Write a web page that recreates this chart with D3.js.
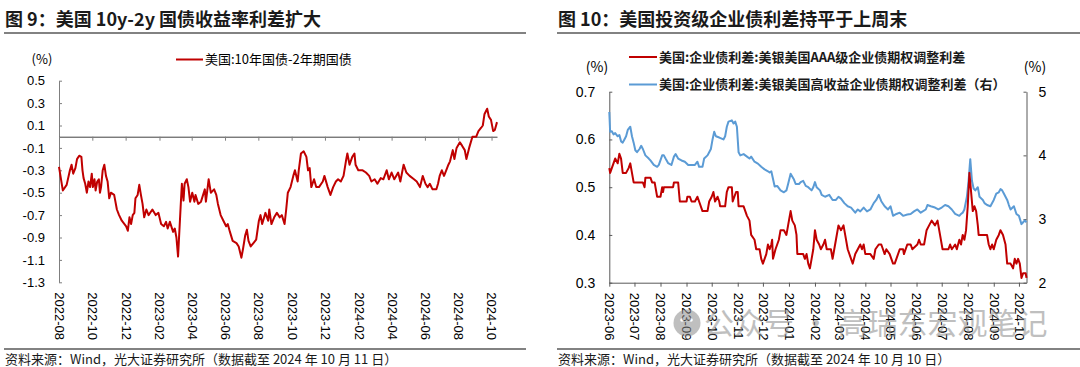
<!DOCTYPE html>
<html>
<head>
<meta charset="utf-8">
<script src="https://cdn.jsdelivr.net/npm/d3@7"></script>
<style>
  body { margin: 0; background: #fff; }
  svg { display: block; font-family: "Noto Sans CJK SC", "Noto Sans", sans-serif; }
</style>
</head>
<body>
<svg id="chart" width="1080" height="367"></svg>
<script>
// ---------- data: left panel (US 10y - 2y, %) ----------
var spreadDates = [
  "2022-08-01","2022-08-08","2022-08-15","2022-08-21","2022-08-24","2022-08-27","2022-08-31","2022-09-03",
  "2022-09-07","2022-09-11","2022-09-13","2022-09-15","2022-09-18","2022-09-21","2022-09-24","2022-09-27",
  "2022-09-30","2022-10-02","2022-10-05","2022-10-07","2022-10-10","2022-10-13","2022-10-15","2022-10-17",
  "2022-10-20","2022-10-23","2022-10-26","2022-10-29","2022-11-01","2022-11-04","2022-11-10","2022-11-15",
  "2022-11-19","2022-11-24","2022-12-02","2022-12-05","2022-12-08","2022-12-11","2022-12-14","2022-12-17",
  "2022-12-19","2022-12-23","2022-12-26","2022-12-29","2023-01-01","2023-01-04","2023-01-08","2023-01-12",
  "2023-01-19","2023-01-25","2023-01-30","2023-02-04","2023-02-09","2023-02-13","2023-02-16","2023-02-20",
  "2023-02-26","2023-03-01","2023-03-04","2023-03-07","2023-03-12","2023-03-14","2023-03-17","2023-03-19",
  "2023-03-23","2023-03-26","2023-03-29","2023-04-02","2023-04-06","2023-04-08","2023-04-13","2023-04-18",
  "2023-04-25","2023-04-27","2023-05-02","2023-05-06","2023-05-12","2023-05-16","2023-05-19","2023-05-24",
  "2023-05-29","2023-06-03","2023-06-06","2023-06-10","2023-06-15","2023-06-22","2023-06-26","2023-07-01",
  "2023-07-04","2023-07-08","2023-07-11","2023-07-14","2023-07-18","2023-07-23","2023-07-28","2023-08-02",
  "2023-08-05","2023-08-08","2023-08-14","2023-08-19","2023-08-21","2023-08-25","2023-08-30","2023-09-04",
  "2023-09-09","2023-09-13","2023-09-18","2023-09-21","2023-09-24","2023-09-29","2023-10-04","2023-10-07",
  "2023-10-12","2023-10-14","2023-10-18","2023-10-23","2023-10-28","2023-10-31","2023-11-03","2023-11-06",
  "2023-11-11","2023-11-15","2023-11-20","2023-11-27","2023-11-30","2023-12-06","2023-12-11","2023-12-16",
  "2023-12-21","2023-12-25","2023-12-30","2024-01-04","2024-01-09","2024-01-11","2024-01-15","2024-01-20",
  "2024-01-24","2024-01-26","2024-01-31","2024-02-08","2024-02-14","2024-02-20","2024-02-24","2024-03-01",
  "2024-03-06","2024-03-12","2024-03-17","2024-03-23","2024-03-27","2024-04-01","2024-04-06","2024-04-13",
  "2024-04-17","2024-04-21","2024-04-23","2024-04-28","2024-05-04","2024-05-12","2024-05-17","2024-05-23",
  "2024-05-28","2024-06-02","2024-06-06","2024-06-10","2024-06-15","2024-06-22","2024-06-25","2024-06-28",
  "2024-07-02","2024-07-06","2024-07-10","2024-07-14","2024-07-17","2024-07-22","2024-07-25","2024-07-29",
  "2024-08-04","2024-08-08","2024-08-13","2024-08-16","2024-08-21","2024-08-27","2024-09-03","2024-09-07",
  "2024-09-12","2024-09-15","2024-09-18","2024-09-23","2024-09-26","2024-09-30","2024-10-04","2024-10-07",
  "2024-10-11"
];
var spreadValues = [
  -0.27,-0.48,-0.43,-0.30,-0.25,-0.33,-0.28,-0.20,
  -0.17,-0.18,-0.30,-0.37,-0.42,-0.50,-0.40,-0.45,
  -0.33,-0.45,-0.38,-0.48,-0.40,-0.38,-0.50,-0.45,
  -0.30,-0.25,-0.35,-0.40,-0.55,-0.50,-0.52,-0.65,
  -0.70,-0.75,-0.80,-0.84,-0.72,-0.78,-0.70,-0.68,
  -0.55,-0.52,-0.43,-0.52,-0.60,-0.72,-0.65,-0.70,
  -0.65,-0.70,-0.68,-0.78,-0.80,-0.76,-0.82,-0.76,
  -0.85,-0.82,-0.90,-1.07,-0.60,-0.42,-0.57,-0.42,
  -0.38,-0.45,-0.58,-0.50,-0.58,-0.52,-0.60,-0.58,
  -0.47,-0.58,-0.38,-0.50,-0.47,-0.52,-0.60,-0.70,
  -0.75,-0.80,-0.78,-0.85,-0.93,-0.95,-0.98,-1.08,
  -1.00,-0.88,-0.83,-0.93,-0.98,-0.95,-0.92,-0.75,
  -0.70,-0.78,-0.68,-0.75,-0.65,-0.78,-0.72,-0.68,
  -0.72,-0.70,-0.78,-0.65,-0.50,-0.45,-0.35,-0.30,
  -0.40,-0.30,-0.15,-0.13,-0.18,-0.30,-0.28,-0.45,
  -0.38,-0.45,-0.45,-0.40,-0.35,-0.45,-0.52,-0.45,
  -0.40,-0.38,-0.40,-0.35,-0.20,-0.15,-0.25,-0.18,
  -0.15,-0.25,-0.30,-0.30,-0.32,-0.35,-0.40,-0.38,
  -0.42,-0.37,-0.38,-0.30,-0.38,-0.32,-0.38,-0.32,
  -0.40,-0.30,-0.25,-0.32,-0.35,-0.38,-0.40,-0.45,
  -0.35,-0.42,-0.45,-0.42,-0.47,-0.47,-0.42,-0.35,
  -0.30,-0.35,-0.30,-0.25,-0.22,-0.12,-0.20,-0.10,
  -0.05,-0.08,-0.12,-0.20,-0.10,0.00,0.00,0.05,
  0.08,0.10,0.20,0.25,0.18,0.15,0.05,0.06,
  0.13
];
var leftYTicks = [0.5, 0.3, 0.1, -0.1, -0.3, -0.5, -0.7, -0.9, -1.1, -1.3];
var leftMonths = ["2022-08","2022-10","2022-12","2023-02","2023-04","2023-06","2023-08",
  "2023-10","2023-12","2024-02","2024-04","2024-06","2024-08","2024-10"];

// ---------- data: right panel (ICE BofA OAS, %) ----------
var aaaDates = [
  "2023-06-01","2023-06-02","2023-06-04","2023-06-06","2023-06-08","2023-06-11","2023-06-13","2023-06-15",
  "2023-06-17","2023-06-21","2023-06-24","2023-06-26","2023-06-28","2023-06-30","2023-07-05","2023-07-11",
  "2023-07-13","2023-07-14","2023-07-20","2023-07-22","2023-07-25","2023-07-28","2023-08-01","2023-08-03",
  "2023-08-04","2023-08-05","2023-08-16","2023-08-17","2023-08-22","2023-08-24","2023-09-01","2023-09-02",
  "2023-09-05","2023-09-07","2023-09-11","2023-09-14","2023-09-16","2023-09-20","2023-09-26","2023-09-28",
  "2023-10-01","2023-10-03","2023-10-05","2023-10-08","2023-10-10","2023-10-11","2023-10-17","2023-10-19",
  "2023-10-21","2023-10-25","2023-10-26","2023-10-28","2023-10-30","2023-11-01","2023-11-02","2023-11-08",
  "2023-11-10","2023-11-12","2023-11-15","2023-11-17","2023-11-21","2023-11-23","2023-11-27","2023-11-29",
  "2023-12-01","2023-12-03","2023-12-05","2023-12-07","2023-12-09","2023-12-11","2023-12-12","2023-12-13",
  "2023-12-16","2023-12-20","2023-12-22","2023-12-26","2023-12-29","2023-12-31","2024-01-03","2024-01-05",
  "2024-01-08","2024-01-10","2024-01-11","2024-01-18","2024-01-20","2024-01-22","2024-01-24","2024-01-26",
  "2024-01-28","2024-01-30","2024-02-01","2024-02-03","2024-02-06","2024-02-08","2024-02-11","2024-02-13",
  "2024-02-15","2024-02-20","2024-02-22","2024-02-24","2024-02-26","2024-02-29","2024-03-03","2024-03-06",
  "2024-03-08","2024-03-11","2024-03-15","2024-03-17","2024-03-20","2024-03-23","2024-03-26","2024-03-28",
  "2024-03-30","2024-04-01","2024-04-07","2024-04-11","2024-04-13","2024-04-17","2024-04-20","2024-04-22",
  "2024-04-24","2024-04-26","2024-04-30","2024-05-02","2024-05-04","2024-05-06","2024-05-08","2024-05-12",
  "2024-05-16","2024-05-17","2024-05-21","2024-05-25","2024-05-27","2024-06-02","2024-06-04","2024-06-06",
  "2024-06-10","2024-06-13","2024-06-16","2024-06-19","2024-06-23","2024-06-26","2024-06-29","2024-07-02",
  "2024-07-05","2024-07-09","2024-07-11","2024-07-13","2024-07-17","2024-07-19","2024-07-22","2024-07-24",
  "2024-07-26","2024-07-28","2024-07-30","2024-08-01","2024-08-03","2024-08-05","2024-08-07","2024-08-09",
  "2024-08-11","2024-08-13","2024-08-14","2024-08-24","2024-08-26","2024-08-28","2024-08-30","2024-09-01",
  "2024-09-04","2024-09-07","2024-09-09","2024-09-12","2024-09-15","2024-09-17","2024-09-21","2024-09-24",
  "2024-09-26","2024-09-28","2024-09-30","2024-10-02","2024-10-04","2024-10-06","2024-10-09","2024-10-10"
];
var aaaValues = [
  0.54,0.53,0.54,0.55,0.56,0.55,0.57,0.56,
  0.53,0.53,0.54,0.55,0.53,0.51,0.51,0.51,
  0.50,0.52,0.52,0.51,0.51,0.48,0.48,0.50,
  0.49,0.50,0.50,0.51,0.51,0.47,0.47,0.48,
  0.48,0.47,0.47,0.48,0.47,0.45,0.45,0.47,
  0.48,0.49,0.47,0.48,0.47,0.46,0.46,0.49,
  0.50,0.50,0.47,0.48,0.49,0.49,0.46,0.46,
  0.45,0.44,0.43,0.40,0.39,0.37,0.37,0.35,
  0.34,0.35,0.36,0.38,0.37,0.38,0.39,0.35,
  0.37,0.39,0.41,0.41,0.40,0.42,0.45,0.43,
  0.42,0.40,0.36,0.36,0.35,0.36,0.34,0.33,
  0.35,0.37,0.41,0.39,0.38,0.37,0.38,0.39,
  0.37,0.37,0.35,0.37,0.39,0.42,0.41,0.42,
  0.40,0.37,0.35,0.34,0.36,0.37,0.38,0.37,
  0.38,0.36,0.36,0.35,0.37,0.38,0.38,0.37,
  0.36,0.37,0.36,0.35,0.34,0.34,0.35,0.37,
  0.37,0.36,0.38,0.38,0.37,0.38,0.39,0.38,
  0.38,0.41,0.42,0.43,0.42,0.43,0.40,0.37,
  0.37,0.37,0.38,0.37,0.38,0.37,0.39,0.38,
  0.40,0.39,0.41,0.46,0.53,0.49,0.45,0.46,
  0.45,0.42,0.40,0.40,0.38,0.37,0.38,0.37,
  0.39,0.40,0.41,0.40,0.38,0.34,0.34,0.33,
  0.35,0.34,0.35,0.34,0.31,0.32,0.32,0.31
];
var hyDates = [
  "2023-06-01","2023-06-02","2023-06-04","2023-06-06","2023-06-08","2023-06-11","2023-06-13","2023-06-15",
  "2023-06-17","2023-06-19","2023-06-21","2023-06-23","2023-06-26","2023-06-28","2023-06-30","2023-07-02",
  "2023-07-04","2023-07-07","2023-07-09","2023-07-11","2023-07-14","2023-07-18","2023-07-20","2023-07-24",
  "2023-07-28","2023-07-30","2023-08-03","2023-08-05","2023-08-07","2023-08-10","2023-08-14","2023-08-17",
  "2023-08-19","2023-08-22","2023-08-26","2023-08-30","2023-09-03","2023-09-07","2023-09-11","2023-09-14",
  "2023-09-16","2023-09-20","2023-09-22","2023-09-26","2023-09-28","2023-09-30","2023-10-02","2023-10-04",
  "2023-10-06","2023-10-10","2023-10-15","2023-10-17","2023-10-19","2023-10-21","2023-10-25","2023-10-27",
  "2023-10-29","2023-10-31","2023-11-02","2023-11-04","2023-11-08","2023-11-12","2023-11-15","2023-11-17",
  "2023-11-21","2023-11-25","2023-11-29","2023-12-03","2023-12-07","2023-12-09","2023-12-11","2023-12-15",
  "2023-12-18","2023-12-22","2023-12-26","2023-12-29","2023-12-31","2024-01-03","2024-01-07","2024-01-09",
  "2024-01-13","2024-01-15","2024-01-18","2024-01-21","2024-01-24","2024-01-28","2024-01-30","2024-02-01",
  "2024-02-03","2024-02-07","2024-02-09","2024-02-13","2024-02-18","2024-02-22","2024-02-26","2024-02-29",
  "2024-03-03","2024-03-07","2024-03-11","2024-03-15","2024-03-20","2024-03-23","2024-03-26","2024-03-30",
  "2024-04-03","2024-04-07","2024-04-11","2024-04-14","2024-04-17","2024-04-20","2024-04-24","2024-04-28",
  "2024-05-01","2024-05-04","2024-05-08","2024-05-12","2024-05-16","2024-05-21","2024-05-25","2024-05-29",
  "2024-06-02","2024-06-06","2024-06-12","2024-06-14","2024-06-18","2024-06-23","2024-06-27","2024-07-01",
  "2024-07-05","2024-07-09","2024-07-13","2024-07-17","2024-07-22","2024-07-24","2024-07-26","2024-07-28",
  "2024-07-31","2024-08-02","2024-08-04","2024-08-06","2024-08-08","2024-08-10","2024-08-13","2024-08-15",
  "2024-08-19","2024-08-21","2024-08-24","2024-08-28","2024-09-01","2024-09-04","2024-09-07","2024-09-09",
  "2024-09-11","2024-09-13","2024-09-17","2024-09-19","2024-09-21","2024-09-25","2024-09-28","2024-10-01",
  "2024-10-04","2024-10-06","2024-10-08","2024-10-10"
];
var hyValues = [
  4.68,4.37,4.38,4.33,4.35,4.30,4.32,4.22,
  4.20,4.25,4.30,4.40,4.45,4.30,4.20,4.08,
  4.05,4.10,4.15,4.10,4.00,3.95,3.92,3.85,
  3.82,3.85,4.00,4.00,3.95,3.88,3.85,3.98,
  4.02,3.95,3.92,3.90,3.85,3.85,3.85,3.90,
  3.82,3.82,3.95,4.00,4.05,4.10,4.25,4.37,
  4.30,4.28,4.25,4.30,4.45,4.53,4.55,4.50,
  4.53,4.45,4.05,4.00,4.02,3.98,3.95,3.98,
  3.90,3.87,3.82,3.78,3.75,3.73,3.75,3.51,
  3.52,3.45,3.42,3.45,3.55,3.71,3.62,3.55,
  3.55,3.58,3.60,3.52,3.50,3.45,3.50,3.58,
  3.50,3.45,3.38,3.35,3.38,3.30,3.30,3.35,
  3.32,3.25,3.20,3.18,3.10,3.15,3.12,3.18,
  3.12,3.15,3.25,3.30,3.38,3.28,3.20,3.15,
  3.20,3.05,3.08,3.10,3.05,3.07,3.08,3.12,
  3.15,3.10,3.15,3.22,3.20,3.18,3.15,3.18,
  3.22,3.20,3.15,3.08,3.05,3.08,3.10,3.15,
  3.35,3.60,3.94,3.60,3.48,3.45,3.50,3.35,
  3.30,3.25,3.22,3.20,3.30,3.40,3.42,3.47,
  3.45,3.40,3.30,3.22,3.15,3.20,3.08,3.05,
  2.92,2.95,2.98,2.95
];
var rightLeftTicks = [0.3, 0.4, 0.5, 0.6, 0.7];
var rightRightTicks = [2, 3, 4, 5];
var rightMonths = ["2023-06","2023-07","2023-08","2023-09","2023-10","2023-11","2023-12","2024-01",
  "2024-02","2024-03","2024-04","2024-05","2024-06","2024-07","2024-08","2024-09","2024-10"];

var RED = "#c00000", BLUE = "#5b9bd5", AXIS = "#7f7f7f";
var parseDay = d3.timeParse("%Y-%m-%d");
var parseMonth = d3.timeParse("%Y-%m");
var fmtMonth = d3.timeFormat("%Y-%m");

var svg = d3.select("#chart");

function styleAxis(g, color) {
  g.selectAll("path, line").attr("stroke", color).attr("stroke-width", 1);
  g.selectAll("text").attr("fill", "#000").style("font-family", "inherit");
}

// rotated month labels under a panel
function monthLabels(x, months, y) {
  var g = svg.append("g")
    .attr("transform", "translate(0," + y + ")")
    .call(d3.axisBottom(x).tickValues(months.map(parseMonth)).tickSize(0).tickFormat(fmtMonth));
  g.select(".domain").remove();
  g.selectAll("text")
    .attr("font-size", 13)
    .attr("fill", "#000")
    .style("font-family", "inherit")
    .attr("x", 10).attr("y", 0).attr("dy", "0.35em")
    .attr("transform", "rotate(90)")
    .style("text-anchor", "start");
}

function header(x, lineX2, title, source) {
  svg.append("text").attr("x", x).attr("y", 25.5)
    .attr("font-size", 18).attr("font-weight", "bold").attr("fill", "#1a1a1a")
    .text(title);
  svg.append("line").attr("x1", x - 1).attr("x2", lineX2).attr("y1", 33).attr("y2", 33)
    .attr("stroke", "#595959").attr("stroke-width", 1.5);
  svg.append("line").attr("x1", x - 1).attr("x2", lineX2).attr("y1", 349).attr("y2", 349)
    .attr("stroke", "#595959").attr("stroke-width", 1.5);
  svg.append("text").attr("x", x).attr("y", 364)
    .attr("font-size", 13).attr("fill", "#1a1a1a")
    .text(source);
}

// ================= left panel =================
header(5, 526, "图 9：美国 10y-2y 国债收益率利差扩大",
  "资料来源：Wind，光大证券研究所（数据截至 2024 年 10 月 11 日）");

var xL = d3.scaleTime()
  .domain([parseDay(spreadDates[0]), parseDay(spreadDates[spreadDates.length - 1])])
  .range([59, 497]);
var yL = d3.scaleLinear().domain([-1.3, 0.5]).range([282.3, 80.7]);

var gyL = svg.append("g").attr("transform", "translate(59,0)")
  .call(d3.axisLeft(yL).tickValues(leftYTicks).tickSizeInner(-3).tickSizeOuter(0)
    .tickPadding(14).tickFormat(function (d) { return d.toFixed(1); }));
styleAxis(gyL, AXIS);
gyL.selectAll("text").attr("font-size", 13);

var gxL = svg.append("g").attr("transform", "translate(0," + yL(0) + ")")
  .call(d3.axisBottom(xL).tickValues(leftMonths.map(parseMonth)).tickSizeInner(4).tickSizeOuter(0).tickFormat(""));
styleAxis(gxL, "#404040");
gxL.selectAll(".tick line").attr("stroke", AXIS);

monthLabels(xL, leftMonths, 282.3);

var spread = spreadDates.map(function (d, i) { return { date: parseDay(d), value: spreadValues[i] }; });
svg.append("path").datum(spread)
  .attr("fill", "none").attr("stroke", RED).attr("stroke-width", 2).attr("stroke-linejoin", "round")
  .attr("d", d3.line().x(function (d) { return xL(d.date); }).y(function (d) { return yL(d.value); }));

svg.append("text").attr("x", 42).attr("y", 59.5).attr("dy", "0.35em")
  .attr("text-anchor", "middle").attr("font-size", 13).text("(%)");
svg.append("line").attr("x1", 176).attr("x2", 203).attr("y1", 59.5).attr("y2", 59.5)
  .attr("stroke", RED).attr("stroke-width", 2);
svg.append("text").attr("x", 205).attr("y", 59.5).attr("dy", "0.35em")
  .attr("font-size", 13).text("美国:10年国债-2年期国债");

// ================= right panel =================
header(558, 1080, "图 10：美国投资级企业债利差持平于上周末",
  "资料来源：Wind，光大证券研究所（数据截至 2024 年 10 月 10 日）");

var xR = d3.scaleTime()
  .domain([parseDay(aaaDates[0]), parseDay(aaaDates[aaaDates.length - 1])])
  .range([609.3, 1026.5]);
var yRL = d3.scaleLinear().domain([0.3, 0.7]).range([282.7, 91.7]);
var yRR = d3.scaleLinear().domain([2, 5]).range([282.7, 91.7]);

var gyRL = svg.append("g").attr("transform", "translate(609.3,0)")
  .call(d3.axisLeft(yRL).tickValues(rightLeftTicks).tickSizeInner(-3).tickSizeOuter(0)
    .tickPadding(14).tickFormat(d3.format(".1f")));
styleAxis(gyRL, "#595959");
gyRL.selectAll("text").attr("font-size", 14);

var gyRR = svg.append("g").attr("transform", "translate(1026.5,0)")
  .call(d3.axisRight(yRR).tickValues(rightRightTicks).tickSizeInner(-3).tickSizeOuter(0)
    .tickPadding(12).tickFormat(d3.format("d")));
styleAxis(gyRR, "#595959");
gyRR.selectAll("text").attr("font-size", 14);

var gxR = svg.append("g").attr("transform", "translate(0,282.7)")
  .call(d3.axisBottom(xR).tickValues(rightMonths.map(parseMonth)).tickSizeInner(4).tickSizeOuter(0).tickFormat(""));
styleAxis(gxR, "#595959");

monthLabels(xR, rightMonths, 282.7);

var hy = hyDates.map(function (d, i) { return { date: parseDay(d), value: hyValues[i] }; });
var aaa = aaaDates.map(function (d, i) { return { date: parseDay(d), value: aaaValues[i] }; });

svg.append("path").datum(hy)
  .attr("fill", "none").attr("stroke", BLUE).attr("stroke-width", 2).attr("stroke-linejoin", "round")
  .attr("d", d3.line().x(function (d) { return xR(d.date); }).y(function (d) { return yRR(d.value); }));
svg.append("path").datum(aaa)
  .attr("fill", "none").attr("stroke", RED).attr("stroke-width", 2).attr("stroke-linejoin", "round")
  .attr("d", d3.line().x(function (d) { return xR(d.date); }).y(function (d) { return yRL(d.value); }));

svg.append("text").attr("x", 597).attr("y", 67.5).attr("dy", "0.35em")
  .attr("text-anchor", "middle").attr("font-size", 14).text("(%)");
svg.append("text").attr("x", 1035).attr("y", 67.5).attr("dy", "0.35em")
  .attr("text-anchor", "middle").attr("font-size", 14).text("(%)");

var legendR = [
  { label: "美国:企业债利差:美银美国AAA级企业债期权调整利差", color: RED, y: 57 },
  { label: "美国:企业债利差:美银美国高收益企业债期权调整利差（右）", color: BLUE, y: 84.5 }
];
legendR.forEach(function (d) {
  svg.append("line").attr("x1", 629).attr("x2", 657).attr("y1", d.y).attr("y2", d.y)
    .attr("stroke", d.color).attr("stroke-width", 2);
  svg.append("text").attr("x", 659).attr("y", d.y).attr("dy", "0.35em")
    .attr("font-size", 13).attr("font-weight", "bold").attr("fill", "#1a1a1a").text(d.label);
});

// watermark
var wm = svg.append("g").attr("opacity", 0.55);
wm.append("circle").attr("cx", 687).attr("cy", 323).attr("r", 13.5).attr("fill", "#8c8c8c");
wm.append("circle").attr("cx", 682).attr("cy", 320).attr("r", 1.8).attr("fill", "#fff");
wm.append("circle").attr("cx", 691).attr("cy", 320).attr("r", 1.8).attr("fill", "#fff");
wm.append("text").attr("x", 704).attr("y", 323).attr("dy", "0.36em")
  .attr("font-size", 30).attr("fill", "#8c8c8c").text("公众号 · 高瑞东宏观笔记");
</script>
</body>
</html>
